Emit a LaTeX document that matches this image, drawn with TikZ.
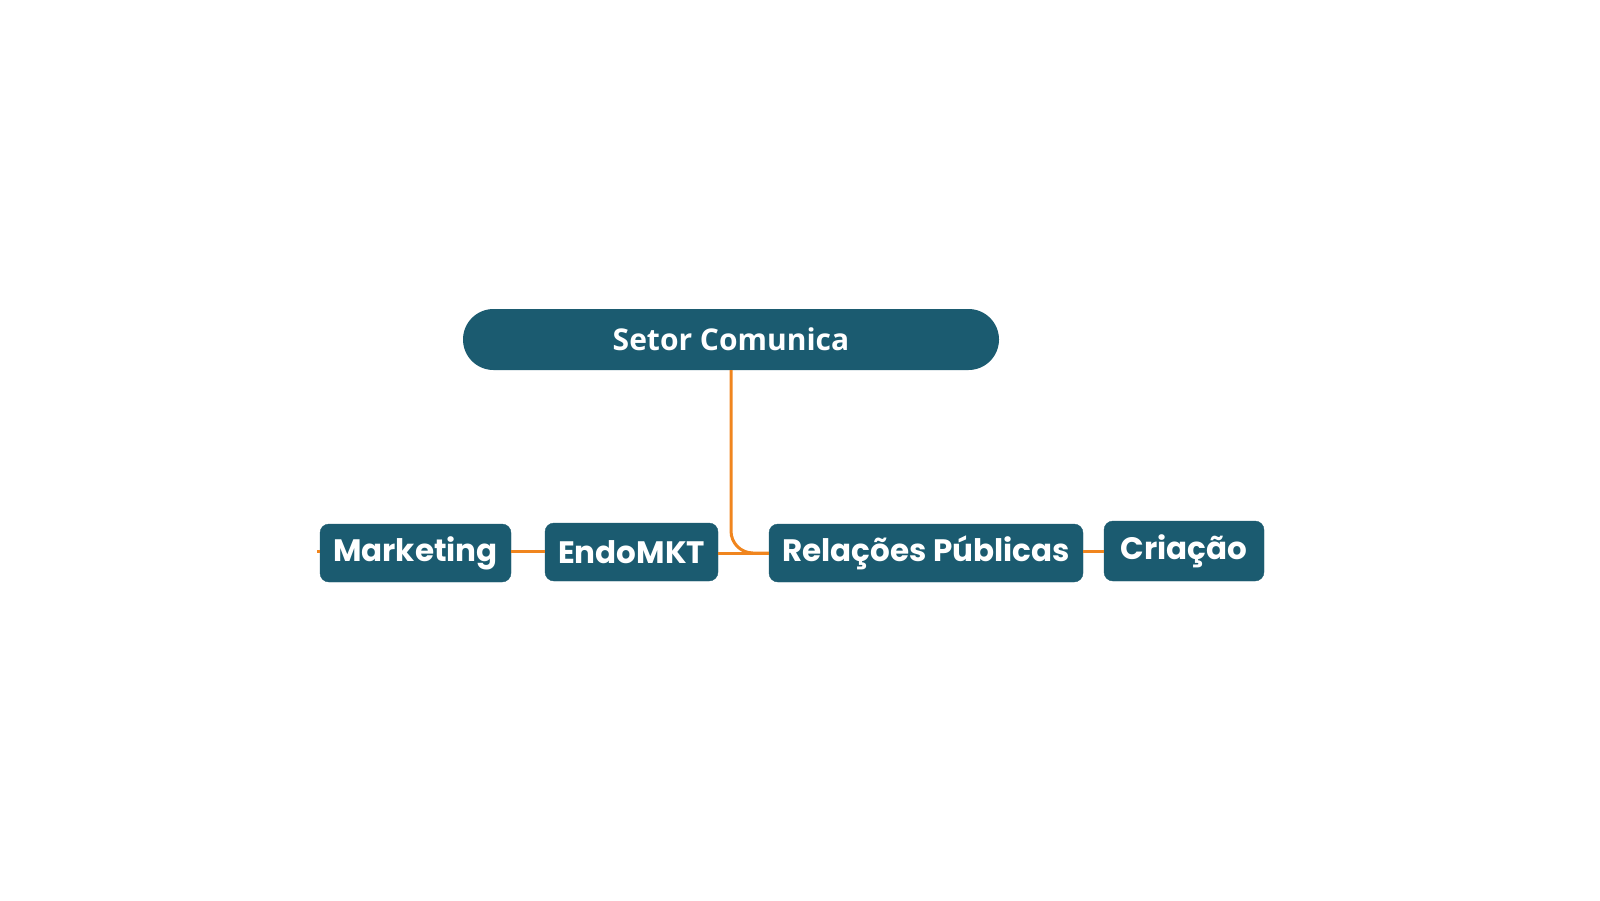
\documentclass[tikz,border=0pt]{standalone}
\usepackage{fontspec}
\newfontfamily\pop{Poppins}
\newfontfamily\osans{Open Sans}
\definecolor{teal}{HTML}{1B5B70}
\definecolor{org}{HTML}{F0851E}
\begin{document}
\begin{tikzpicture}[x=1pt,y=-1pt,
 box/.style={fill=teal,draw=teal,rounded corners=9pt,text=white,inner sep=0pt,font=\pop\bfseries\fontsize{31}{31}\selectfont},
 link/.style={draw=org,line width=3pt}]
\useasboundingbox (0,0) rectangle (1600,900);
\node[box,minimum width=191pt,minimum height=58pt] (m) at (415.5,553) {Marketing};
\node[box,minimum width=173pt,minimum height=58pt] (e) at (631.5,552) {EndoMKT};
\node[box,minimum width=314pt,minimum height=58pt] (r) at (926,553) {Relações Públicas};
\node[box,minimum width=160pt,minimum height=60pt] (c) at (1184,551) {Criação};
\node[fill=teal,rounded corners=30.5pt,minimum width=536pt,minimum height=61pt,inner sep=0pt,text=white,font=\osans\bfseries\fontsize{30}{30}\selectfont] (s) at (731,339.5) {Setor Comunica};
\coordinate (stub) at (317,551);
\begin{scope}[on background layer/.try]
\end{scope}
\draw[link,rounded corners=22pt] (s.south) -- (731,553) -- (r.west|-0,553);
\draw[link] (e.east|-0,553) -- (r.west|-0,553);
\draw[link] (m.east|-0,551) -- (e.west|-0,551);
\draw[link] (r.east|-0,551) -- (c.west|-0,551);
\draw[link] (stub) -- (m.west|-0,551);
\end{tikzpicture}
\end{document}
